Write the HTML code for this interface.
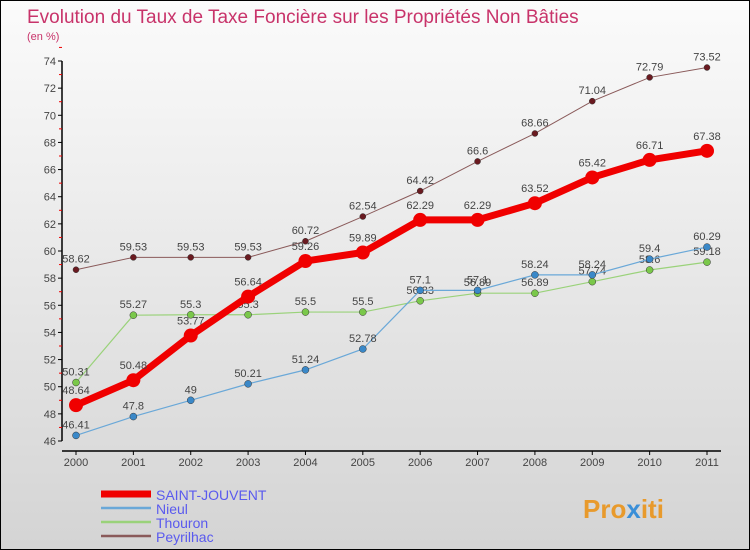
<!DOCTYPE html>
<html><head><meta charset="utf-8"><style>
body{margin:0}
#c{width:748px;height:548px;border:1px solid #000;background:linear-gradient(#fbfbfb,#d4d4d4);position:relative;font-family:"Liberation Sans",sans-serif;overflow:hidden}
</style></head><body>
<div id="c">
<svg id="s" width="748" height="548" xmlns="http://www.w3.org/2000/svg" style="position:absolute;left:0;top:0">
<text x="26" y="22" font-size="19" fill="#c8336a">Evolution du Taux de Taxe Foncière sur les Propriétés Non Bâties</text>
<text x="26" y="39" font-size="11" fill="#c8336a">(en %)</text>
<g id="axes"></g><g id="series"></g><g id="legend"></g>
<text x="582" y="517" font-size="26" font-weight="bold" fill="#e89a2c">Pro<tspan fill="#3a8fd8">x</tspan>iti</text>
</svg>
</div>
<script>
const years=[2000,2001,2002,2003,2004,2005,2006,2007,2008,2009,2010,2011];
const yTicks=[46,48,50,52,54,56,58,60,62,64,66,68,70,72,74];
const saintJouvent=[48.64,50.48,53.77,56.64,59.26,59.89,62.29,62.29,63.52,65.42,66.71,67.38];
const nieul=[46.41,47.8,49,50.21,51.24,52.78,57.1,57.1,58.24,58.24,59.4,60.29];
const thouron=[50.31,55.27,55.3,55.3,55.5,55.5,56.33,56.89,56.89,57.74,58.6,59.18];
const peyrilhac=[58.62,59.53,59.53,59.53,60.72,62.54,64.42,66.6,68.66,71.04,72.79,73.52];
const NS="http://www.w3.org/2000/svg";
const X=i=>75+i*(706-75)/11;
const Y=v=>440-(v-46)*(380/28);
function mk(t,a,p){const e=document.createElementNS(NS,t);for(const k in a)e.setAttribute(k,a[k]);p.appendChild(e);return e;}
const ax=document.getElementById('axes');
let l=mk('line',{x1:61,y1:Y(74),x2:61,y2:Y(46),stroke:'#000','stroke-width':1.5},ax);

l=mk('line',{x1:61,y1:450,x2:720,y2:450,stroke:'#000','stroke-width':1.5},ax);

yTicks.forEach(v=>{
  mk('line',{x1:57,y1:Y(v),x2:61,y2:Y(v),stroke:'#000'},ax);
  mk('line',{x1:58,y1:Y(v+1),x2:61,y2:Y(v+1),stroke:'#e00'},ax);
  const t=mk('text',{x:55,y:Y(v)+4,'font-size':11,fill:'#444','text-anchor':'end'},ax);t.textContent=v;
  
});
years.forEach((yr,i)=>{
  mk('line',{x1:X(i),y1:450,x2:X(i),y2:454,stroke:'#000'},ax);
  const t=mk('text',{x:X(i),y:465,'font-size':11,fill:'#444','text-anchor':'middle'},ax);t.textContent=yr;
  
});
const defs=[
 {name:'Peyrilhac',d:peyrilhac,c:'#8a5a5a',dot:'#6a1a20',w:1,r:3},
 {name:'Thouron',d:thouron,c:'#9ad27a',dot:'#7ac84a',w:1.2,r:3.5},
 {name:'Nieul',d:nieul,c:'#6aa8d8',dot:'#3a88c8',w:1.2,r:3.5},
 {name:'SAINT-JOUVENT',d:saintJouvent,c:'#f00000',dot:'#f00000',w:7,r:7}
];
const sg=document.getElementById('series');
defs.forEach(s=>{
  const g=mk('g',{},sg);
  
  
  const p=mk('polyline',{points:s.d.map((v,i)=>X(i)+','+Y(v)).join(' '),fill:'none',stroke:s.c,'stroke-width':s.w},g);
  
  
  s.d.forEach((v,i)=>{
    const c=mk('circle',{cx:X(i),cy:Y(v),r:s.r,fill:s.dot,stroke:s.w>2?'none':'#333','stroke-width':0.5},g);
    
    
    const t=mk('text',{x:X(i),y:Y(v)-(s.w>2?11:7),'font-size':11,fill:'#444','text-anchor':'middle'},g);
    t.textContent=v;
    
    
  });
});
const lg=document.getElementById('legend');
[defs[3],defs[2],defs[1],defs[0]].forEach((s,i)=>{
  const y=493+i*14;
  const ln=mk('line',{x1:100,y1:y,x2:150,y2:y,stroke:s.c,'stroke-width':s.w>2?7:2.5},lg);
  
  
  const t=mk('text',{x:155,y:y+6,'font-size':14,fill:'#5a5aee'},lg);
  t.textContent=s.name;
  
  
});
</script>
</body></html>
